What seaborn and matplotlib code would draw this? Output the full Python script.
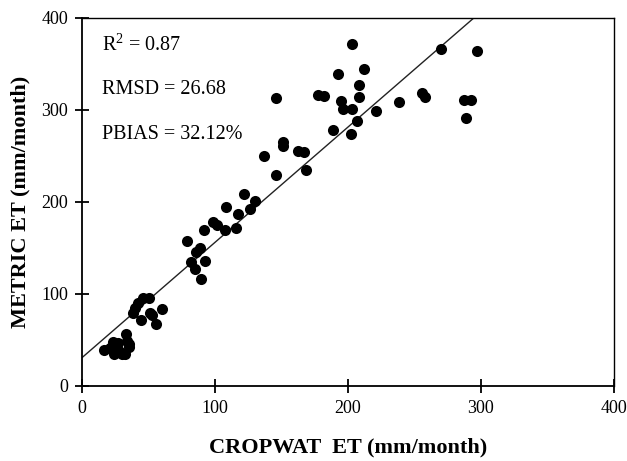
import numpy as np
import pandas as pd
import matplotlib
matplotlib.use("Agg")
import matplotlib.pyplot as plt
import seaborn as sns

# CROPWAT ET vs METRIC ET (mm/month)
cropwat = [270.1, 296.8, 203.0, 212.0, 192.8, 208.4, 177.4, 182.0, 145.9, 208.4,
           194.6, 196.4, 203.0, 221.4, 238.5, 255.6, 258.0, 287.2, 292.6, 288.7,
           206.9, 188.9, 202.4, 151.0, 151.3, 136.5, 162.4, 166.9, 168.4, 145.9,
           121.8, 129.9, 126.3, 108.0, 117.6, 98.6, 101.7, 115.5, 107.7, 92.0,
           79.1, 82.1, 88.7, 85.7, 85.1, 92.3, 89.3, 50.2, 46.0, 41.8,
           39.7, 38.5, 59.8, 51.1, 52.9, 44.2, 55.6,
           16.5, 21.0, 23.5, 25.0, 24.0, 28.0, 30.0, 32.5, 33.0, 34.0, 35.0, 35.5, 27.0]
metric = [366.7, 363.8, 371.8, 344.3, 338.8, 327.6, 316.7, 314.9, 313.5, 313.8,
          309.5, 300.5, 300.5, 299.4, 308.1, 318.2, 314.2, 311.3, 311.0, 291.4,
          287.8, 278.4, 274.0, 265.3, 260.6, 250.1, 255.9, 254.5, 234.9, 228.8,
          208.5, 200.9, 192.6, 194.8, 186.8, 178.1, 175.2, 171.6, 169.0, 169.4,
          157.5, 134.3, 149.9, 145.5, 127.4, 136.1, 116.2, 95.6, 95.6, 89.8,
          85.1, 79.6, 83.3, 79.6, 76.7, 71.7, 67.7,
          38.5, 41.0, 48.0, 44.0, 35.0, 38.0, 35.0, 34.5, 56.0, 49.0, 45.0, 42.0, 47.0]

fit_intercept = 30.8
fit_slope = 1.253

stats_labels = ["R$^2$ = 0.87", "RMSD = 26.68", "PBIAS = 32.12%"]

df = pd.DataFrame({"CROPWAT": cropwat, "METRIC": metric})

sns.set_style("white")
plt.rcParams["font.family"] = ["Liberation Serif", "DejaVu Serif"]
plt.rcParams["text.color"] = "black"
plt.rcParams["axes.labelcolor"] = "black"
plt.rcParams["mathtext.fontset"] = "custom"
plt.rcParams["mathtext.rm"] = "Liberation Serif"

fig = plt.figure(figsize=(6.27, 4.61), dpi=100)
ax = fig.add_axes([0.131, 0.163, 0.848, 0.798])

sns.scatterplot(data=df, x="CROPWAT", y="METRIC", color="black", s=64,
                edgecolor="black", linewidth=0, ax=ax, zorder=3)

xs = np.array([0, 400])
ax.plot(xs, fit_intercept + fit_slope * xs, color="#222222", linewidth=1.0, zorder=2)

ax.set_xlim(0, 400)
ax.set_ylim(0, 400)
ax.set_xticks([0, 100, 200, 300, 400])
ax.set_yticks([0, 100, 200, 300, 400])
ax.tick_params(direction="inout", length=10, width=1.3, labelsize=13, pad=5,
               colors="black", left=True, bottom=True)
for side in ["left", "bottom", "top", "right"]:
    ax.spines[side].set_color("black")
    ax.spines[side].set_linewidth(1.0)
ax.spines["left"].set_linewidth(1.3)
ax.spines["bottom"].set_linewidth(1.3)

ax.set_xlabel("CROPWAT  ET (mm/month)", fontsize=16, fontweight="bold", labelpad=15)
ax.set_ylabel("METRIC ET (mm/month)", fontsize=16, fontweight="bold", labelpad=8)

for txt, yy in zip(stats_labels, [0.928, 0.805, 0.683]):
    ax.text(0.037, yy, txt, transform=ax.transAxes,
            fontsize=14.5, va="center", ha="left")

fig.savefig("out.png", dpi=100)
